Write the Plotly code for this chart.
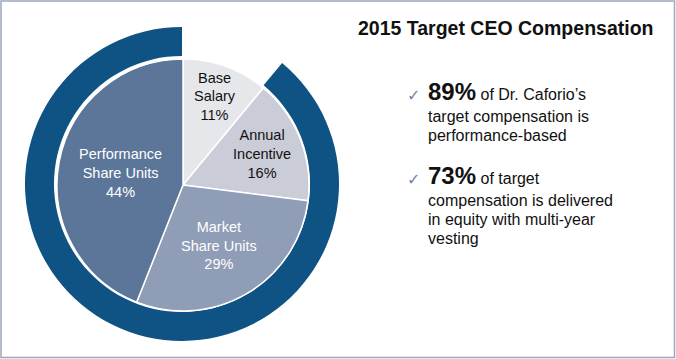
import plotly.graph_objects as go

# ---- data ----
categories = ["Base Salary", "Annual Incentive", "Market Share Units", "Performance Share Units"]
shares = [11, 16, 29, 44]
ring_labels = ["Fixed", "Performance-based"]
ring_values = [11, 89]
title_text = "2015 Target CEO Compensation"
bullet_pcts = ["89%", "73%"]
bullet_texts = [
    ["of Dr. Caforio\u2019s", "target compensation is", "performance-based"],
    ["of target", "compensation is delivered", "in equity with multi-year", "vesting"],
]

W, H = 676, 359
FONT = "Liberation Sans, Arial, Helvetica, sans-serif"

def dom(cx, cy, r):
    return dict(x=[(cx - r) / W, (cx + r) / W], y=[(H - cy - r) / H, (H - cy + r) / H])

def py(y):
    return 1 - y / H

slice_colors = ["#e6e7eb", "#cacdd7", "#8f9db6", "#5b7699"]
text_colors = ["#111111", "#111111", "#ffffff", "#ffffff"]
label_text = []
for c, v in zip(categories, shares):
    words = c.split(" ")
    if len(words) == 2:
        lines = words
    elif len(words) == 3:
        lines = [words[0], " ".join(words[1:])]
    else:
        lines = [c]
    label_text.append("<br>".join(lines) + f"<br>{v}%")

fig = go.Figure()

# outer ring
fig.add_trace(go.Pie(
    labels=ring_labels, values=ring_values, sort=False, direction="clockwise", rotation=0,
    hole=128 / 157,
    marker=dict(colors=["rgba(0,0,0,0)", "#0e5384"], line=dict(width=0)),
    textinfo="none", hoverinfo="skip", showlegend=False,
    domain=dom(182, 184, 157),
))

# inner pie
fig.add_trace(go.Pie(
    labels=categories, values=shares, sort=False, direction="clockwise", rotation=0,
    marker=dict(colors=slice_colors, line=dict(color="white", width=1.5)),
    text=label_text, textinfo="text", textposition="inside",
    insidetextorientation="horizontal",
    insidetextfont=dict(family=FONT, size=14.5, color=text_colors),
    hoverinfo="label+percent", showlegend=False,
    domain=dom(183, 185, 126),
))

annotations = [
    dict(text=f"<b>{title_text}</b>", x=505 / W, y=py(28), xref="paper", yref="paper",
         xanchor="center", yanchor="middle", showarrow=False,
         font=dict(family=FONT, size=19.5, color="#111111")),
]
first_baselines = [103, 187]
line_gap = 19
for pct, lines, b0 in zip(bullet_pcts, bullet_texts, first_baselines):
    annotations.append(dict(text="\u2713", x=405 / W, y=py(b0 - 8), xref="paper", yref="paper",
                            xanchor="left", yanchor="middle", showarrow=False,
                            font=dict(family="DejaVu Sans", size=16, color="#7385a3")))
    first = f"<b><span style='font-size:24px'>{pct}</span></b> {lines[0]}"
    annotations.append(dict(text=first, x=426 / W, y=py(b0 + 4), xref="paper", yref="paper",
                            xanchor="left", yanchor="bottom", align="left", showarrow=False,
                            font=dict(family=FONT, size=16, color="#111111")))
    for i, ln in enumerate(lines[1:], start=1):
        annotations.append(dict(text=ln, x=426 / W, y=py(b0 + i * line_gap - 6), xref="paper",
                                yref="paper", xanchor="left", yanchor="middle", align="left",
                                showarrow=False,
                                font=dict(family=FONT, size=16, color="#111111")))

fig.update_layout(
    width=W, height=H, margin=dict(l=0, r=0, t=0, b=0),
    paper_bgcolor="white", plot_bgcolor="white",
    annotations=annotations,
    uniformtext=dict(minsize=14.5, mode="show"),
    shapes=[dict(type="rect", xref="paper", yref="paper", x0=1 / W, y0=1.5 / H, x1=1 - 1.5 / W,
                 y1=1 - 1 / H, line=dict(color="#9ca7bc", width=1.5))],
)

fig.write_html("out.html", config={"displayModeBar": False},
               post_script="document.body.style.margin='0';document.body.style.padding='0';")
